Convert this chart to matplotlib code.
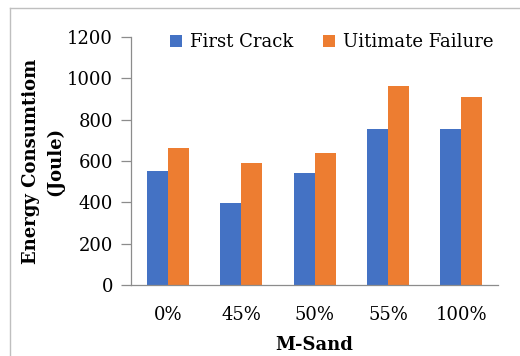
import numpy as np
from matplotlib import pyplot as plt
from matplotlib.lines import Line2D

# Energy consumption per M-Sand replacement level
categories = ['0%', '45%', '50%', '55%', '100%']
first_crack = [553, 397, 544, 753, 753]
ultimate_failure = [661, 589, 640, 961, 911]

plt.rcParams['font.family'] = 'DejaVu Serif'

fig = plt.figure(figsize=(5.2, 3.56), dpi=100)
ax = fig.add_axes([0.252, 0.199, 0.706, 0.697])

x = np.arange(len(categories))
w = 0.286
ax.bar(x - w / 2, first_crack, w, color='#4472C4', label='First Crack')
ax.bar(x + w / 2, ultimate_failure, w, color='#ED7D31', label='Uitimate Failure')

ax.set_xlim(-0.5, len(categories) - 0.5)
ax.set_ylim(0, 1200)
ax.set_yticks(range(0, 1201, 200))
ax.set_xticks(x)
ax.set_xticklabels(categories)

for side in ['top', 'right']:
    ax.spines[side].set_visible(False)
for side in ['left', 'bottom']:
    ax.spines[side].set_color('#8c8c8c')
    ax.spines[side].set_linewidth(0.9)

ax.tick_params(axis='y', length=7, width=0.9, color='#8c8c8c', labelsize=13, pad=6)
ax.tick_params(axis='x', length=0, labelsize=13, pad=15)

ax.set_xlabel('M-Sand', fontsize=13, fontweight='bold', labelpad=9)
ax.set_ylabel('Energy Consumtiom\n(Joule)', fontsize=13, fontweight='bold',
              linespacing=1.45, labelpad=2)

ax.legend(loc='upper center', bbox_to_anchor=(0.546, 1.08), ncol=2, frameon=False,
          fontsize=13, handlelength=0.7, handleheight=0.7, handletextpad=0.4,
          columnspacing=1.65)

# thin outline around the chart area
fig.add_artist(Line2D([0.019, 0.019], [0.0, 0.978], color='#bfbfbf', lw=1.0))
fig.add_artist(Line2D([0.019, 1.0], [0.978, 0.978], color='#bfbfbf', lw=1.0))

fig.savefig('out.png', dpi=100)
